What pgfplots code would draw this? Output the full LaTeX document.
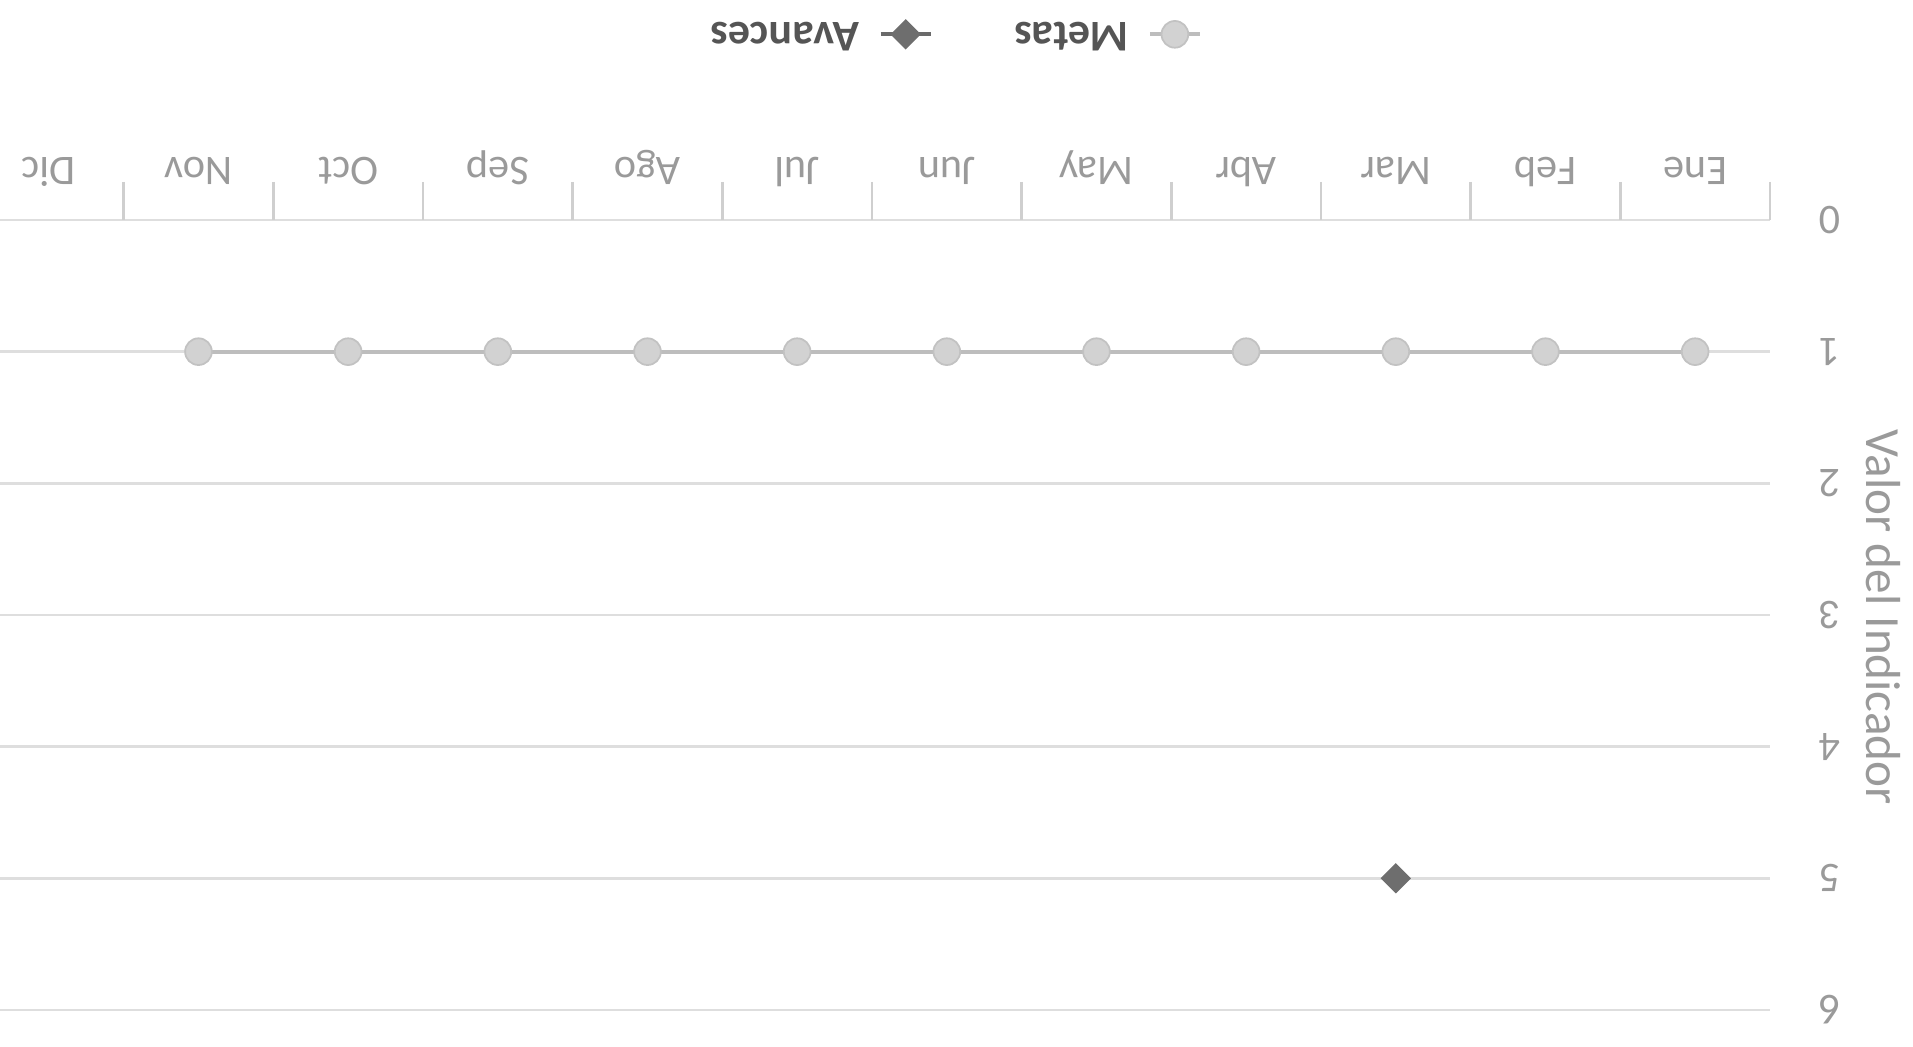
\documentclass[border=0pt]{standalone}
\usepackage{fontspec}
\setmainfont{Carlito}
\usepackage{pgfplots}
\pgfplotsset{compat=1.18}
\definecolor{gridc}{HTML}{DEDEDE}
\definecolor{axisc}{HTML}{CFCFCF}
\definecolor{tickc}{HTML}{9A9A9A}
\definecolor{legc}{HTML}{555555}
\definecolor{metl}{HTML}{BDBDBD}
\definecolor{metf}{HTML}{D2D2D2}
\definecolor{mete}{HTML}{C2C2C2}
\definecolor{avl}{HTML}{6A6A6A}
\definecolor{avf}{HTML}{6E6E6E}
\begin{document}
\begin{tikzpicture}
\begin{axis}[
  scale only axis, width=17.96cm, height=7.9cm,
  x dir=reverse, y dir=reverse,
  xmin=-0.5, xmax=11.5, ymin=0, ymax=6,
  xtick={0,...,11},
  xticklabels={Ene,Feb,Mar,Abr,May,Jun,Jul,Ago,Sep,Oct,Nov,Dic},
  minor xtick={-0.5,0.5,...,11.5},
  ytick={0,...,6},
  major tick length=0pt, minor tick length=0.38cm,
  tick align=outside,
  xtick pos=right, ytick pos=right,
  xticklabel pos=right, yticklabel pos=right,
  axis line style={draw=none},
  ymajorgrids, grid style={gridc, line width=0.7pt},
  minor tick style={axisc, line width=0.7pt},
  /pgf/number format/assume math mode=true,
  ticklabel style={font=\fontsize{12}{14}\selectfont, text=tickc},
  xticklabel style={inner sep=0pt, text height=0.65em, text depth=0.2em, yshift=0.39cm, rotate=180, anchor=north},
  yticklabel style={inner sep=0pt, xshift=0.48cm, rotate=180, anchor=east},
  ylabel={Valor del Indicador},
  ylabel style={at={(axis description cs:1.063,0.497)}, anchor=center, rotate=180, font=\fontsize{14}{16}\selectfont, text=tickc},
  legend style={at={(axis description cs:0.545,1.235)}, anchor=center, draw=none, fill=none,
    font=\bfseries\fontsize{12.5}{14}\selectfont, text=legc,
    nodes={rotate=180},
    /tikz/every odd column/.append style={column sep=0.12cm},
    /tikz/every even column/.append style={column sep=0.75cm}},
  legend columns=-1,
  reverse legend,
  legend plot pos=right,
  legend image code/.code={\draw[mark repeat=2,mark phase=2] plot coordinates {(0cm,0cm)(0.25cm,0cm)(0.5cm,0cm)};},
  clip=false,
]
\addplot[color=metl, line width=1.1pt, mark=*, mark size=3.8pt, mark options={fill=metf, draw=mete, line width=0.5pt}]
  coordinates {(0,1)(1,1)(2,1)(3,1)(4,1)(5,1)(6,1)(7,1)(8,1)(9,1)(10,1)};
\addlegendentry{Metas}
\addplot[color=avl, line width=1.1pt, mark=square*, mark size=2.5pt, mark options={fill=avf, draw=avf, rotate=45}]
  coordinates {(2,5)};
\addlegendentry{Avances}
\coordinate (bl) at (axis description cs:0,0);
\coordinate (tr) at (axis description cs:1,1);
\end{axis}
\pgfresetboundingbox
\path[use as bounding box] ([xshift=0.26cm,yshift=-0.37cm]bl) rectangle ([xshift=1.43cm,yshift=2.2cm]tr);
\end{tikzpicture}
\end{document}
